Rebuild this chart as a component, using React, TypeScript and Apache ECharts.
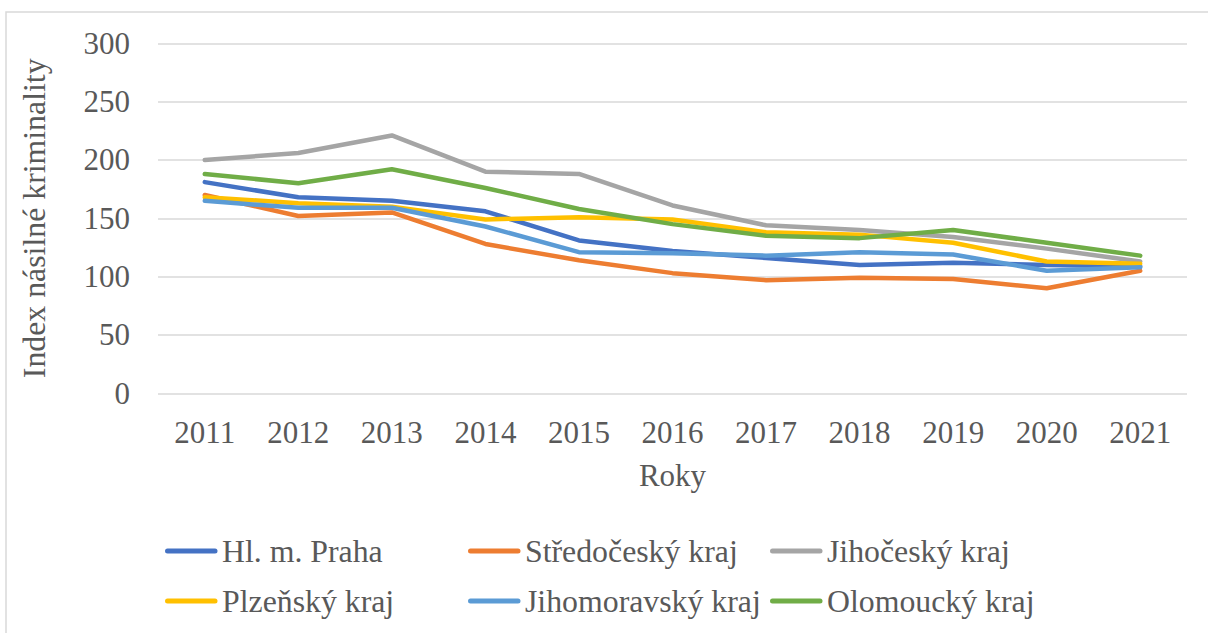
import React, { useEffect, useRef } from "react";
import * as echarts from "echarts";

const years = ["2011", "2012", "2013", "2014", "2015", "2016", "2017", "2018", "2019", "2020", "2021"];
const seriesNames = ["Hl. m. Praha", "Středočeský kraj", "Jihočeský kraj", "Plzeňský kraj", "Jihomoravský kraj", "Olomoucký kraj"];
const praha = [181, 168, 165, 156, 131, 122, 116, 110, 112, 110, 109];
const stredocesky = [170, 152, 155, 128, 114, 103, 97, 99, 98, 90, 105];
const jihocesky = [200, 206, 221, 190, 188, 161, 144, 140, 134, 124, 113];
const plzensky = [168, 163, 160, 149, 151, 149, 138, 136, 129, 113, 111];
const jihomoravsky = [165, 159, 159, 143, 121, 120, 118, 121, 119, 105, 108];
const olomoucky = [188, 180, 192, 176, 158, 145, 135, 133, 140, 129, 118];
const seriesValues = [praha, stredocesky, jihocesky, plzensky, jihomoravsky, olomoucky];
const colors = ["#4472C4", "#ED7D31", "#A5A5A5", "#FFC000", "#5B9BD5", "#70AD47"];
const legendPos = [
  [165, 551],
  [468, 551],
  [770, 551],
  [165, 601],
  [468, 601],
  [770, 601],
];

const FONT = "Liberation Serif";
const TEXT = "#595959";

export default function App() {
  const ref = useRef<HTMLDivElement>(null);
  useEffect(() => {
    if (!ref.current) return;
    const chart = echarts.init(ref.current, null, { renderer: "svg" });
    const legendGraphics = seriesNames.map((n, i) => ({
      type: "group",
      x: legendPos[i][0],
      y: legendPos[i][1],
      silent: true,
      children: [
        {
          type: "line",
          shape: { x1: 2.5, y1: 0, x2: 50, y2: 0 },
          style: { stroke: colors[i], lineWidth: 5, lineCap: "round" },
        },
        {
          type: "text",
          x: 57,
          y: 0,
          style: {
            text: n,
            fontFamily: FONT,
            fontSize: 31.8,
            fill: TEXT,
            verticalAlign: "middle",
            align: "left",
          },
        },
      ],
    }));
    chart.setOption({
      animation: false,
      backgroundColor: "#ffffff",
      color: colors,
      textStyle: { fontFamily: FONT },
      graphic: [
        {
          type: "rect",
          shape: { x: 6, y: 12, width: 1215, height: 640 },
          style: { fill: "none", stroke: "#d9d9d9", lineWidth: 1.5 },
          silent: true,
        },
        ...legendGraphics,
      ],
      grid: { left: 158, right: 21, top: 43.3, bottom: 239.7 },
      xAxis: {
        type: "category",
        data: years,
        boundaryGap: true,
        name: "Roky",
        nameLocation: "middle",
        nameGap: 67,
        nameTextStyle: { fontFamily: FONT, fontSize: 31, color: TEXT },
        axisLine: { show: false },
        axisTick: { show: false },
        axisLabel: { fontFamily: FONT, fontSize: 31, color: TEXT, margin: 24 },
      },
      yAxis: {
        type: "value",
        min: 0,
        max: 300,
        interval: 50,
        name: "Index násilné kriminality",
        nameLocation: "middle",
        nameGap: 108,
        nameTextStyle: { fontFamily: FONT, fontSize: 31.8, color: TEXT },
        axisLine: { show: false },
        axisTick: { show: false },
        axisLabel: { fontFamily: FONT, fontSize: 31, color: TEXT, margin: 28 },
        splitLine: { lineStyle: { color: "#d9d9d9", width: 1.5 } },
      },
      series: seriesNames.map((n, i) => ({
        name: n,
        type: "line",
        data: seriesValues[i],
        symbol: "none",
        lineStyle: { width: 4.5, color: colors[i], cap: "round", join: "round" },
        itemStyle: { color: colors[i] },
      })),
    });
    return () => chart.dispose();
  }, []);
  return (
    <div
      ref={ref}
      style={{ position: "fixed", left: 0, top: 0, width: 1208, height: 633 }}
    />
  );
}
